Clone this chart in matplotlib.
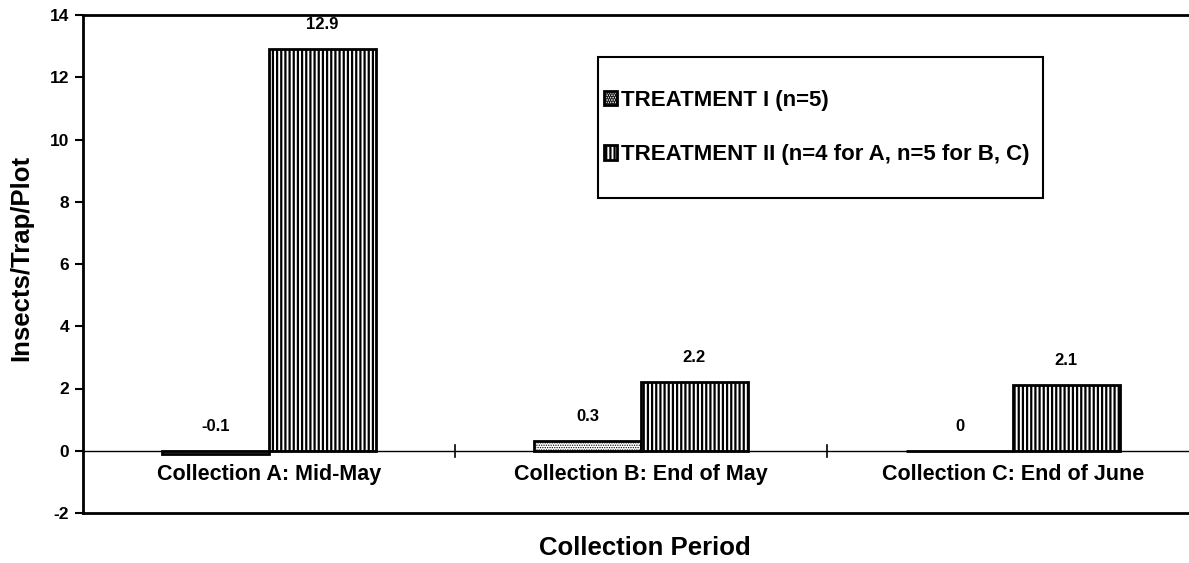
import matplotlib
matplotlib.use("Agg")
import matplotlib.pyplot as plt
from matplotlib.patches import Rectangle
import numpy as np

categories = ["Collection A: Mid-May", "Collection B: End of May", "Collection C: End of June"]
treatment1 = [-0.1, 0.3, 0.0]
treatment2 = [12.9, 2.2, 2.1]
labels1 = ["-0.1", "0.3", "0"]
labels2 = ["12.9", "2.2", "2.1"]
series_names = ["TREATMENT I (n=5)", "TREATMENT II (n=4 for A, n=5 for B, C)"]
yticks = [-2, 0, 2, 4, 6, 8, 10, 12, 14]

plt.rcParams['font.family'] = ['Liberation Sans', 'DejaVu Sans']
plt.rcParams['font.weight'] = 'bold'
plt.rcParams['hatch.linewidth'] = 1.6

W, H = 1189, 563
fig = plt.figure(figsize=(W / 100, H / 100), dpi=100)
left = 83 / W
right = 1199 / W
bottom = 1 - 513 / H
top = 1 - 15 / H
ax = fig.add_axes([left, bottom, right - left, top - bottom])

x = np.arange(len(categories))
w = 0.287
b1 = ax.bar(x - w / 2, treatment1, w, facecolor='white', edgecolor='black',
            linewidth=2, hatch='.......', label=series_names[0])
b2 = ax.bar(x + w / 2, treatment2, w, facecolor='white', edgecolor='black',
            linewidth=2, hatch='||||', label=series_names[1])
for bar in b1:
    if hasattr(bar, 'set_hatch_linewidth'):
        bar.set_hatch_linewidth(0.6)

ax.set_xlim(-0.5, len(categories) - 0.5)
ax.set_ylim(-2, 14)
ax.set_yticks(yticks)
ax.set_yticklabels([str(t) for t in yticks], fontsize=12.5, fontweight='bold')
ax.tick_params(axis='y', direction='out', length=6, width=1.5, pad=4)
ax.set_xticks([])

ax.axhline(0, color='black', linewidth=1.0)
for i in range(len(categories) - 1):
    ax.plot([i + 0.5, i + 0.5], [-0.2, 0.2], color='black', linewidth=1.2)

for i, (v, l) in enumerate(zip(treatment1, labels1)):
    ax.text(x[i] - w / 2, max(v, 0) + 0.55, l, ha='center', va='bottom',
            fontsize=12, fontweight='bold')
for i, (v, l) in enumerate(zip(treatment2, labels2)):
    ax.text(x[i] + w / 2, max(v, 0) + 0.55, l, ha='center', va='bottom',
            fontsize=12, fontweight='bold')
for i, c in enumerate(categories):
    ax.text(x[i], -0.75, c, ha='center', va='center', fontsize=15.5, fontweight='bold')

for s in ['left', 'top', 'bottom']:
    ax.spines[s].set_linewidth(2)
ax.spines['right'].set_visible(False)

fig.text(21 / W, 1 - 258 / H, "Insects/Trap/Plot", rotation=90, ha='center', va='center',
         fontsize=18.5, fontweight='bold')
fig.text(645 / W, 1 - 548 / H, "Collection Period", ha='center', va='center',
         fontsize=18.5, fontweight='bold')

# legend box
fig.add_artist(Rectangle((598 / W, 1 - 198 / H), (1043 - 598) / W, (198 - 57) / H,
                         transform=fig.transFigure, facecolor='white', edgecolor='black',
                         linewidth=1.5, zorder=5))
leg = fig.legend(loc='upper left', bbox_to_anchor=(604 / W, 1 - 90 / H),
                 fontsize=16, frameon=False,
                 handlelength=0.6, handleheight=0.6, handletextpad=0.15,
                 labelspacing=1.5, borderpad=0, borderaxespad=0)
leg.set_zorder(6)
for t in leg.get_texts():
    t.set_fontweight('bold')

fig.savefig("out.png", dpi=100)
